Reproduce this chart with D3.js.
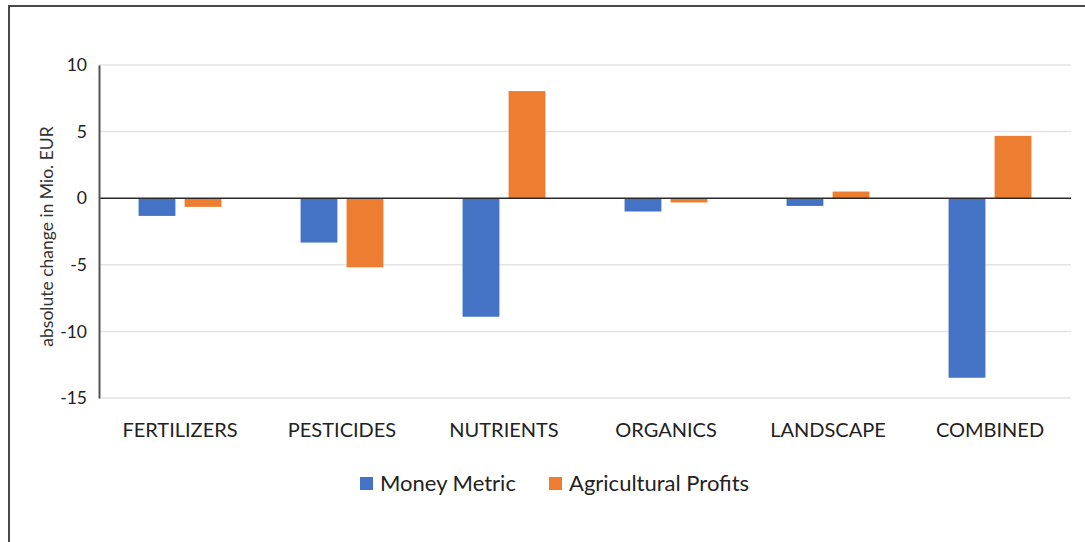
<!DOCTYPE html>
<html>
<head>
<meta charset="utf-8">
<script src="https://cdn.jsdelivr.net/npm/d3@7"></script>
<style>
  html, body { margin: 0; padding: 0; background: #fff; }
  svg { display: block; }
</style>
</head>
<body>
<svg id="chart" width="1085" height="542"></svg>
<script>
const categories = ["FERTILIZERS", "PESTICIDES", "NUTRIENTS", "ORGANICS", "LANDSCAPE", "COMBINED"];
const seriesNames = ["Money Metric", "Agricultural Profits"];
const moneyMetric = [-1.33, -3.33, -8.9, -1.0, -0.58, -13.48];
const agriculturalProfits = [-0.65, -5.19, 8.04, -0.32, 0.5, 4.68];
const yTicks = [10, 5, 0, -5, -10, -15];
const colors = ["#4472C4", "#ED7D31"];
const yTitle = "absolute change in Mio. EUR";

const seriesValues = [moneyMetric, agriculturalProfits];
const FONT = "Lato, 'Open Sans', sans-serif";

const svg = d3.select("#chart");
const W = 1085, H = 542;

svg.append("rect").attr("width", W).attr("height", H).attr("fill", "#fff");

// outer frame (top and left visible)
svg.append("path")
  .attr("d", `M9,${H} L9,6 L${W},6`)
  .attr("fill", "none").attr("stroke", "#4a4a4a").attr("stroke-width", 2);

const plot = { left: 99, right: 1071, top: 65, bottom: 398 };

const y = d3.scaleLinear().domain([-15, 10]).range([plot.bottom, plot.top]);
const x = d3.scaleBand().domain(categories).range([plot.left, plot.right]).padding(0);
const xInner = d3.scaleBand().domain(seriesNames).range([0, x.bandwidth()])
  .paddingInner(0.2).paddingOuter(0.86);

// gridlines
svg.append("g").selectAll("line").data(yTicks.filter(t => t !== 0)).join("line")
  .attr("x1", plot.left).attr("x2", plot.right)
  .attr("y1", d => y(d)).attr("y2", d => y(d))
  .attr("stroke", "#e3e3e3").attr("stroke-width", 1.5);

// bars
const rows = [];
categories.forEach((c, i) => {
  seriesNames.forEach((s, j) => rows.push({ c, s, j, v: seriesValues[j][i] }));
});
svg.append("g").selectAll("rect").data(rows).join("rect")
  .attr("x", d => x(d.c) + xInner(d.s))
  .attr("width", xInner.bandwidth())
  .attr("y", d => y(Math.max(0, d.v)))
  .attr("height", d => Math.abs(y(d.v) - y(0)))
  .attr("fill", d => colors[d.j]);

// zero line
svg.append("line")
  .attr("x1", plot.left).attr("x2", plot.right)
  .attr("y1", y(0)).attr("y2", y(0))
  .attr("stroke", "#2b2b2b").attr("stroke-width", 1.5);

// y axis
const yAxis = d3.axisLeft(y).tickValues(yTicks).tickSize(0).tickPadding(12).tickFormat(d3.format("d"));
const gy = svg.append("g").attr("transform", `translate(${plot.left},0)`).call(yAxis);
gy.select(".domain").attr("stroke", "#555").attr("stroke-width", 2);
gy.selectAll("text").attr("font-family", FONT).attr("font-size", 17.5).attr("fill", "#222")
  .text(d => d < 0 ? "-" + Math.abs(d) : d);

// x category labels
const xAxis = d3.axisBottom(x).tickSize(0).tickPadding(0);
const gx = svg.append("g").attr("transform", `translate(0,${plot.bottom})`).call(xAxis);
gx.select(".domain").remove();
gx.selectAll("text").attr("font-family", FONT).attr("font-size", 20).attr("fill", "#222")
  .attr("dy", null).attr("y", 39);

// y title
svg.append("text")
  .attr("transform", `translate(53,${(plot.top + plot.bottom) / 2 + 5}) rotate(-90)`)
  .attr("text-anchor", "middle")
  .attr("font-family", FONT).attr("font-size", 17.5).attr("fill", "#333")
  .text(yTitle);

// legend
const legendItems = [
  { name: seriesNames[0], color: colors[0], x: 360 },
  { name: seriesNames[1], color: colors[1], x: 549 }
];
const lg = svg.append("g");
legendItems.forEach(it => {
  lg.append("rect").attr("x", it.x).attr("y", 477).attr("width", 13).attr("height", 13).attr("fill", it.color);
  lg.append("text").attr("x", it.x + 20).attr("y", 491)
    .attr("font-family", FONT).attr("font-size", 22).attr("fill", "#222").text(it.name);
});
</script>
</body>
</html>
